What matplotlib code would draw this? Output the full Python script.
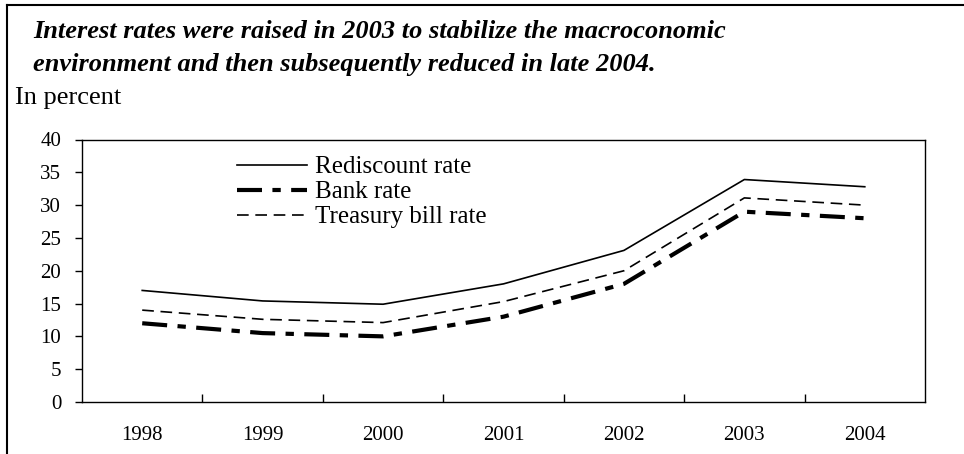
import numpy as np
import matplotlib.pyplot as plt
from matplotlib.lines import Line2D

plt.rcParams['font.family'] = 'Liberation Serif'

years = ['1998', '1999', '2000', '2001', '2002', '2003', '2004']
rediscount = [17, 15.4, 14.9, 18, 23.1, 33.9, 32.8]
bank = [12, 10.5, 10, 13, 18, 29, 28]
tbill = [14, 12.6, 12.1, 15.3, 20, 31.1, 30]

W, H = 964, 454
fig = plt.figure(figsize=(W / 100, H / 100), dpi=100)

# frame around the figure: top and left only
fig.add_artist(Line2D([7 / W, 1], [1 - 5 / H, 1 - 5 / H], color='black', lw=1.5))
fig.add_artist(Line2D([7 / W, 7 / W], [0, 1 - 5 / H], color='black', lw=1.5))

fig.text(33 / W, 1 - 38 / H, 'Interest rates were raised in 2003 to stabilize the macroconomic',
         fontsize=19, style='italic', weight='bold', va='baseline')
fig.text(33 / W, 1 - 71 / H, 'environment and then subsequently reduced in late 2004.',
         fontsize=19, style='italic', weight='bold', va='baseline')
fig.text(15 / W, 1 - 104 / H, 'In percent', fontsize=19, va='baseline')

ax = fig.add_axes([82 / W, (H - 402) / H, 843 / W, (402 - 139.5) / H])
x = np.arange(len(years))
ax.plot(x, rediscount, color='black', lw=1.2, label='Rediscount rate')
ax.plot(x, bank, color='black', lw=3, dashes=(6, 2.5, 2, 2.5), label='Bank rate')
ax.plot(x, tbill, color='black', lw=1.2, dashes=(7, 4), label='Treasury bill rate')

ax.set_xlim(-0.5, len(years) - 0.5)
ax.set_ylim(0, 40)
ax.set_yticks(np.arange(0, 41, 5))
ax.set_xticks(x)
ax.set_xticklabels(years)
ax.set_xticks(np.arange(0.5, len(years) - 0.5, 1), minor=True)
ax.tick_params(axis='x', which='major', length=0, pad=17.5, labelsize=15)
ax.tick_params(axis='x', which='minor', direction='in', length=6, width=1)
ax.tick_params(axis='y', direction='out', length=5, width=1, labelsize=15, pad=10)
for s in ax.spines.values():
    s.set_linewidth(1)

ax.legend(loc='upper left', bbox_to_anchor=(0.1686, 0.985), frameon=False, fontsize=18,
          handlelength=2.8, handletextpad=0.32, labelspacing=0.1, borderpad=0)

fig.savefig('out.png', dpi=100)
